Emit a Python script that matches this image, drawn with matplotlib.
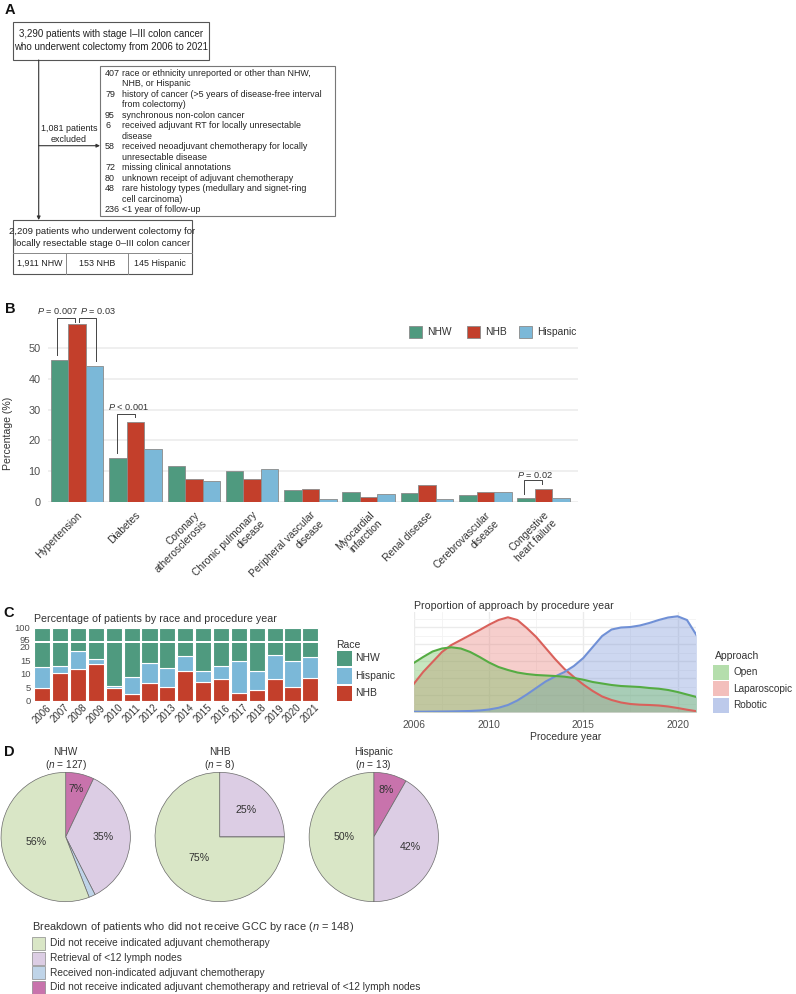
import matplotlib
matplotlib.use('Agg')
import matplotlib.pyplot as plt
from matplotlib.patches import Rectangle
import numpy as np

plt.rcParams['font.family'] = ['Liberation Sans', 'DejaVu Sans']
plt.rcParams['mathtext.fontset'] = 'custom'
plt.rcParams['mathtext.rm'] = 'Liberation Sans'
plt.rcParams['mathtext.it'] = 'Liberation Sans:italic'

# ---------------- DATA ----------------
# Panel A (flow chart)
total_patients = 3290
exclusion_counts = [407, 79, 95, 6, 58, 72, 80, 48, 236]
exclusion_reasons = [
    "race or ethnicity unreported or other than NHW,\nNHB, or Hispanic",
    "history of cancer (>5 years of disease-free interval\nfrom colectomy)",
    "synchronous non-colon cancer",
    "received adjuvant RT for locally unresectable\ndisease",
    "received neoadjuvant chemotherapy for locally\nunresectable disease",
    "missing clinical annotations",
    "unknown receipt of adjuvant chemotherapy",
    "rare histology types (medullary and signet-ring\ncell carcinoma)",
    "<1 year of follow-up",
]
cohort_groups = ["NHW", "NHB", "Hispanic"]
cohort_counts = [1911, 153, 145]

# Panel B (comorbidities, %)
comorbidities = ["Hypertension", "Diabetes", "Coronary\natherosclerosis",
                 "Chronic pulmonary\ndisease", "Peripheral vascular\ndisease",
                 "Myocardial\ninfarction", "Renal disease",
                 "Cerebrovascular\ndisease", "Congestive\nheart failure"]
pct_nhw = [46.0, 14.4, 11.7, 10.2, 3.9, 3.3, 3.0, 2.3, 1.5]
pct_nhb = [57.5, 26.0, 7.6, 7.6, 4.4, 1.8, 5.7, 3.2, 4.4]
pct_hisp = [44.1, 17.1, 6.8, 10.9, 1.2, 2.6, 1.2, 3.3, 1.3]

# Panel C left (race by procedure year, %)
years = ["2006", "2007", "2008", "2009", "2010", "2011", "2012", "2013",
         "2014", "2015", "2016", "2017", "2018", "2019", "2020", "2021"]
year_nhb = [4.7, 10.2, 11.8, 13.5, 4.7, 2.4, 6.5, 5.0, 10.8, 6.7, 8.0, 2.8, 4.0, 8.0, 4.9, 8.3]
year_hisp = [7.9, 2.7, 6.7, 1.8, 0.6, 6.2, 7.6, 7.2, 5.7, 4.3, 5.0, 11.9, 7.1, 8.9, 9.8, 7.7]
year_nhw = [87.4, 87.1, 81.5, 84.7, 94.7, 91.4, 85.9, 87.8, 83.5, 89.0, 87.0, 85.3, 88.9, 83.1, 85.3, 84.0]

# Panel C right (approach density, relative units)
ridge_years = [2006, 2006.5, 2007, 2007.5, 2008, 2008.5, 2009, 2009.5, 2010, 2010.5,
               2011, 2011.5, 2012, 2012.5, 2013, 2013.5, 2014, 2014.5, 2015, 2015.5,
               2016, 2016.5, 2017, 2017.5, 2018, 2018.5, 2019, 2019.5, 2020, 2020.5, 2021]
dens_open = [49, 55, 60.5, 63.5, 64.7, 63.5, 60, 55, 49.5, 45, 42, 39.5, 38, 37, 36.5, 36,
             35.3, 34, 32.3, 30, 28.5, 27, 26, 25.5, 25, 24, 23.3, 22, 20, 17.5, 15]
dens_lap = [28, 40, 50, 60, 67, 72, 77, 82, 87.3, 92, 94.7, 92, 84, 75, 64, 53,
            43, 35, 27.5, 21, 15.5, 12, 9.5, 8, 7.3, 7, 6.5, 5.5, 4, 2.3, 0.8]
dens_rob = [0.3, 0.3, 0.4, 0.5, 0.6, 0.8, 1.0, 1.5, 2.5, 4.2, 7, 11.5, 17.5, 24, 30.5, 35.5,
            40, 46, 54, 65, 76, 82.5, 84.5, 85, 86.5, 89, 92, 94.5, 95.7, 92, 77]
approaches = ["Open", "Laparoscopic", "Robotic"]

# Panel D (pies, % of patients not receiving GCC)
pie_groups = ["NHW", "NHB", "Hispanic"]
pie_n = [127, 8, 13]
gcc_categories = ["Did not receive indicated adjuvant chemotherapy",
                  "Retrieval of <12 lymph nodes",
                  "Received non-indicated adjuvant chemotherapy",
                  "Did not receive indicated adjuvant chemotherapy and retrieval of <12 lymph nodes"]
pie_nhw = [55.9, 35.4, 1.6, 7.1]
pie_nhb = [75.0, 25.0, 0.0, 0.0]
pie_hisp = [50.0, 41.7, 0.0, 8.3]

# ---------------- STYLE ----------------
W, H = 796, 994
C_NHW, C_NHB, C_HISP = '#4F9A7F', '#C33F2B', '#7BB8D8'
GRID = '#EBEBEB'
TXT = '#222222'
TICK = '#4D4D4D'
pie_colors = ['#D9E6C6', '#DCCDE4', '#BFD4E8', '#C873AC']

fig = plt.figure(figsize=(W / 100, H / 100), dpi=100)


def rect(x0, y0, x1, y1):
    return [x0 / W, 1 - y1 / H, (x1 - x0) / W, (y1 - y0) / H]


ov = fig.add_axes([0, 0, 1, 1])
ov.set_xlim(0, W)
ov.set_ylim(H, 0)
ov.axis('off')
ov.set_zorder(10)
ov.patch.set_alpha(0)

# panel letters
for lab, (x, y) in zip("ABCD", [(10, 9.5), (10, 309), (9, 613), (9.5, 752.5)]):
    ov.text(x, y, lab, fontsize=10.5, fontweight='bold', ha='center', va='center', color='#111')

# ---------------- PANEL A ----------------
EC = '#555555'
fsA = 7.0
fsA2 = 6.4
ov.add_patch(Rectangle((13.3, 21.7), 196, 38.3, fill=False, ec=EC, lw=0.8))
ov.text(111.3, 34.3, f"{total_patients:,} patients with stage I–III colon cancer",
        ha='center', va='center', fontsize=fsA, color=TXT)
ov.text(111.3, 46.7, "who underwent colectomy from 2006 to 2021",
        ha='center', va='center', fontsize=fsA, color=TXT)

ov.add_patch(Rectangle((100, 66), 235, 150, fill=False, ec='#777', lw=0.8))
lines = []
for c, r in zip(exclusion_counts, exclusion_reasons):
    parts = r.split('\n')
    lines.append((str(c), parts[0]))
    for p in parts[1:]:
        lines.append(('', p))
y = 73.3
for num, txt in lines:
    ov.text(105, y, num, ha='left', va='center', fontsize=fsA2, color=TXT)
    ov.text(121.7, y, txt, ha='left', va='center', fontsize=fsA2, color=TXT)
    y += 10.49

ov.annotate('', xy=(38.7, 220), xytext=(38.7, 60),
            arrowprops=dict(arrowstyle='-|>', color='#333', lw=0.8, mutation_scale=5,
                            shrinkA=0, shrinkB=0))
ov.annotate('', xy=(100, 145.7), xytext=(38.7, 145.7),
            arrowprops=dict(arrowstyle='-|>', color='#333', lw=0.8, mutation_scale=5,
                            shrinkA=0, shrinkB=0))
ov.text(69, 128.3, f"{sum(exclusion_counts):,} patients", ha='center', va='center', fontsize=fsA2, color=TXT)
ov.text(69, 139.3, "excluded", ha='center', va='center', fontsize=fsA2, color=TXT)

ov.add_patch(Rectangle((13.3, 220), 178.4, 53.5, fill=False, ec=EC, lw=0.8))
ov.plot([13.3, 191.7], [253.3, 253.3], color='#888', lw=0.7)
ov.plot([65.7, 65.7], [253.3, 273.5], color='#888', lw=0.7)
ov.plot([127.7, 127.7], [253.3, 273.5], color='#888', lw=0.7)
ov.text(102.5, 231.7, f"{sum(cohort_counts):,} patients who underwent colectomy for",
        ha='center', va='center', fontsize=6.8, color=TXT)
ov.text(102.5, 244, "locally resectable stage 0–III colon cancer",
        ha='center', va='center', fontsize=6.8, color=TXT)
for xc, n, g in zip([39.5, 96.7, 159.7], cohort_counts, cohort_groups):
    ov.text(xc, 263.5, f"{n:,} {g}", ha='center', va='center', fontsize=fsA2, color=TXT)

# ---------------- PANEL B ----------------
axB = fig.add_axes(rect(48, 321.4, 578, 502.3))
xs = np.arange(1, len(comorbidities) + 1)
bw = 0.3
for off, vals, col in [(-bw, pct_nhw, C_NHW), (0, pct_nhb, C_NHB), (bw, pct_hisp, C_HISP)]:
    axB.bar(xs + off, vals, width=bw, color=col, edgecolor='#8A8A8A', lw=0.6, zorder=3)
axB.set_xlim(0.5, 9.59)
axB.set_ylim(0, 58.5)
axB.set_yticks([0, 10, 20, 30, 40, 50])
axB.yaxis.grid(True, color=GRID, lw=1.1, zorder=0)
axB.set_axisbelow(True)
for s in axB.spines.values():
    s.set_visible(False)
axB.tick_params(length=0, labelsize=7.8, labelcolor=TICK, pad=5.5)
axB.set_xticks(xs)
axB.set_xticklabels(comorbidities, rotation=45, ha='right', va='top',
                    rotation_mode='anchor', fontsize=7.4, color='#333')
axB.tick_params(axis='x', pad=5.5)
ov.text(8.5, 433, "Percentage (%)", rotation=90, ha='center', va='center', fontsize=7.6, color='#333')


def bracket(ax, x0, x1, ytop, yl, yr):
    ax.plot([x0, x0, x1, x1], [yl, ytop, ytop, yr], color='#444', lw=0.7, clip_on=False, zorder=4)


bracket(axB, 0.659, 0.967, 59.7, 47.6, 58.4)
bracket(axB, 1.026, 1.322, 59.7, 58.4, 45.8)
bracket(axB, 1.688, 1.99, 28.5, 15.9, 27.5)
bracket(axB, 8.67, 8.98, 7.2, 2.8, 5.9)
pfs = 6.6
axB.text(0.662, 62.0, r"$P$ = 0.007", ha='center', va='center', fontsize=pfs, color='#333', clip_on=False)
axB.text(1.362, 62.0, r"$P$ = 0.03", ha='center', va='center', fontsize=pfs, color='#333', clip_on=False)
axB.text(1.871, 30.7, r"$P$ < 0.001", ha='center', va='center', fontsize=pfs, color='#333')
axB.text(8.85, 8.83, r"$P$ = 0.02", ha='center', va='center', fontsize=pfs, color='#333')

# legend B
for x0, col, lab in [(409, C_NHW, "NHW"), (466.7, C_NHB, "NHB"), (518.7, C_HISP, "Hispanic")]:
    ov.add_patch(Rectangle((x0, 325.7), 13.3, 12.6, fc=col, ec='#8A8A8A', lw=0.6))
    ov.text(x0 + 18.5, 332, lab, ha='left', va='center', fontsize=7.4, color='#333')

# ---------------- PANEL C left ----------------
axT = fig.add_axes(rect(33.3, 626.7, 319.3, 640.7))
axL = fig.add_axes(rect(33.3, 642.7, 319.3, 700.5))
xi = np.arange(1, len(years) + 1)
nhb = np.array(year_nhb)
hsp = np.array(year_hisp)
nhw = np.array(year_nhw)
for ax in (axT, axL):
    ax.bar(xi, nhb, width=0.9, color=C_NHB, edgecolor='white', lw=0.8)
    ax.bar(xi, hsp, bottom=nhb, width=0.9, color=C_HISP, edgecolor='white', lw=0.8)
    ax.bar(xi, nhw, bottom=nhb + hsp, width=0.9, color=C_NHW, edgecolor='white', lw=0.8)
    ax.set_xlim(0.5, 16.5)
    for s in ax.spines.values():
        s.set_visible(False)
    ax.tick_params(length=0, labelsize=6.8, labelcolor=TICK, pad=2)
axT.set_ylim(94.4, 100.43)
axT.set_yticks([95, 100])
axT.set_xticks([])
axL.set_ylim(0, 21.5)
axL.set_yticks([0, 5, 10, 15, 20])
axL.set_xticks(xi)
axL.set_xticklabels(years, rotation=45, ha='center', va='top', fontsize=7.0, color='#333')
axL.tick_params(axis='x', pad=1.5)
ov.text(34.3, 618.5, "Percentage of patients by race and procedure year", ha='left', va='center',
        fontsize=7.7, color='#333')
ov.text(336.5, 644.7, "Race", ha='left', va='center', fontsize=7.5, color='#333')
for yc, col, lab in [(658.3, C_NHW, "NHW"), (676, C_HISP, "Hispanic"), (693.5, C_NHB, "NHB")]:
    ov.add_patch(Rectangle((336.5, yc - 7.8), 15.3, 15.6, fc=col, ec='none'))
    ov.text(355.5, yc, lab, ha='left', va='center', fontsize=7.5, color='#333')

# ---------------- PANEL C right ----------------
axR = fig.add_axes(rect(413.7, 611.5, 696.4, 712))
ry = np.array(ridge_years)
styles = {"Open": ('#6DBE5A', '#55AC43'), "Laparoscopic": ('#E8807A', '#D9615B'),
          "Robotic": ('#7C96D8', '#7090D6')}
for name, vals in [("Laparoscopic", dens_lap), ("Robotic", dens_rob), ("Open", dens_open)]:
    fc, lc = styles[name]
    axR.fill_between(ry, vals, color=fc, alpha=0.38, lw=0, zorder=2)
    axR.plot(ry, vals, color=lc, lw=1.5, zorder=3)
axR.set_xlim(2006, 2021)
axR.set_ylim(0, 100.5)
axR.set_xticks([2006, 2010, 2015, 2020])
axR.set_xticks([2007.5, 2012.5, 2017.5], minor=True)
axR.set_yticks([0, 17, 34, 51, 68, 85])
axR.set_yticks([8.5, 25.5, 42.5, 59.5, 76.5, 93.5], minor=True)
axR.grid(True, which='major', color=GRID, lw=1.0, zorder=0)
axR.grid(True, which='minor', color='#F3F3F3', lw=0.6, zorder=0)
axR.set_yticklabels([])
axR.tick_params(which='both', length=0)
axR.tick_params(axis='x', labelsize=7.4, labelcolor=TICK, pad=6)
for s in axR.spines.values():
    s.set_visible(False)
ov.text(413.7, 606.3, "Proportion of approach by procedure year", ha='left', va='center',
        fontsize=7.7, color='#333')
ov.text(566, 737.3, "Procedure year", ha='center', va='center', fontsize=7.5, color='#333')
ov.text(715, 656.3, "Approach", ha='left', va='center', fontsize=7.5, color='#333')
for yc, name in zip([672.2, 688.8, 705.5], approaches):
    fc, lc = styles[name]
    ov.add_patch(Rectangle((713, yc - 7.5), 16.4, 15, fc=fc, alpha=0.5, ec='none'))
    ov.text(733.5, yc, name, ha='left', va='center', fontsize=7.2, color='#333')

# ---------------- PANEL D ----------------
order = [3, 1, 2, 0]  # clockwise from 12 o'clock
label_r = {0: 0.46, 1: 0.58, 2: 0.6, 3: 0.76}
R = 65.3
for cx, grp, n, vals in zip([65.7, 219.7, 373.8], pie_groups, pie_n, [pie_nhw, pie_nhb, pie_hisp]):
    axP = fig.add_axes(rect(cx - R, 837 - R, cx + R, 837 + R))
    v = [vals[i] for i in order]
    cols = [pie_colors[i] for i in order]
    axP.pie(v, colors=cols, startangle=90, counterclock=False, radius=1,
            wedgeprops=dict(edgecolor='#6A6A6A', linewidth=0.5))
    axP.set_xlim(-1.01, 1.01)
    axP.set_ylim(-1.01, 1.01)
    axP.set_aspect('auto')
    axP.axis('off')
    cum = 0
    tot = sum(v)
    for k, val in zip(order, v):
        if val >= 3:
            mid = (cum + val / 2) / tot * 2 * np.pi
            rr = label_r[k]
            axP.text(rr * np.sin(mid), rr * np.cos(mid), f"{round(val):d}%", ha='center', va='center',
                     fontsize=7.6, color='#333')
        cum += val
    ov.text(cx, 752.3, grp, ha='center', va='center', fontsize=7.3, color='#333')
    ov.text(cx, 765, rf"($n$ = {n})", ha='center', va='center', fontsize=7.3, color='#333')

ov.text(32.3, 926.7, rf"Breakdown of patients who did not receive GCC by race ($n$ = {sum(pie_n)})",
        ha='left', va='center', fontsize=7.9, color='#333')
for yc, col, lab in zip([943.3, 958.0, 972.6, 987.3], pie_colors, gcc_categories):
    ov.add_patch(Rectangle((32.3, yc - 6.5), 12.8, 13, fc=col, ec='#8A8A8A', lw=0.5))
    ov.text(50, yc, lab, ha='left', va='center', fontsize=7.3, color='#333')

fig.savefig('out.png', dpi=100)
